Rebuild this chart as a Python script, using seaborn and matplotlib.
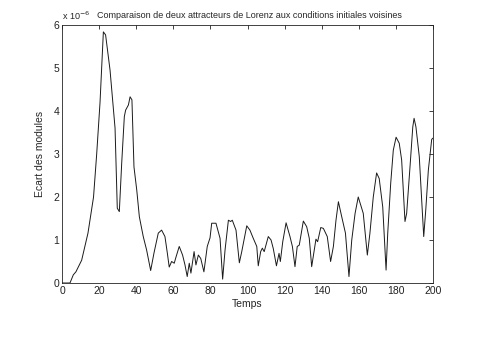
import matplotlib
matplotlib.use("Agg")
import matplotlib.pyplot as plt
import seaborn as sns
import pandas as pd

# Time values and differences (in units of 1e-6)
temps = [0, 4.3, 6.1, 7.5, 10.6, 14, 17, 18.7, 20.5, 22.3, 23.5, 25.9, 28.6, 29.8, 30.9,
         32.2, 33.6, 34.3, 35.8, 36.7, 37.7, 38.8, 40.3, 41.7, 43.8, 45.6, 47.8, 49.6,
         51.9, 53.7, 55.5, 56.8, 57.8, 59.1, 60.5, 61.5, 63.2, 65, 66.3, 67.5, 68.6,
         69.5, 71.2, 72.2, 73.5, 74.8, 76.5, 78.3, 79.8, 80.7, 83, 85.2, 86.6, 87.9,
         89.7, 90.9, 91.8, 93.8, 95.6, 96.9, 99.6, 101.3, 103.1, 105, 105.8, 107.1, 108,
         109, 111.2, 112.7, 113.9, 115.6, 117, 117.7, 119, 120.8, 122.9, 124.2, 125.6,
         126.8, 127.9, 130.1, 131.9, 133.3, 134.6, 136.9, 137.8, 139.5, 140.9, 143,
         144.8, 146.3, 147.7, 149, 150.8, 152.8, 154.7, 156.2, 158, 159.7, 162.4, 164.6,
         166, 167.8, 169.6, 171, 172.9, 174.7, 175.6, 177.2, 178.6, 180.1, 181.8, 183.1,
         184.9, 185.8, 187.6, 189.1, 189.8, 190.8, 192.6, 193.9, 195, 196.1, 197.5,
         199.3, 200]
ecart_e6 = [0, 0, 0.19, 0.26, 0.53, 1.16, 2.0, 3.0, 4.2, 5.84, 5.77, 4.95, 3.6, 1.74, 1.66,
            2.8, 3.87, 4.02, 4.14, 4.33, 4.26, 2.7, 2.16, 1.54, 1.08, 0.77, 0.29, 0.7,
            1.16, 1.23, 1.08, 0.69, 0.37, 0.5, 0.46, 0.61, 0.85, 0.65, 0.42, 0.15, 0.46,
            0.23, 0.73, 0.42, 0.65, 0.57, 0.26, 0.85, 1.05, 1.39, 1.39, 1.04, 0.09, 0.77,
            1.46, 1.43, 1.46, 1.23, 0.47, 0.73, 1.33, 1.23, 1.04, 0.85, 0.40, 0.73, 0.81,
            0.73, 1.08, 1.0, 0.8, 0.40, 0.69, 0.5, 0.96, 1.40, 1.08, 0.85, 0.38,
            0.85, 0.88, 1.44, 1.31, 1.04, 0.38, 1.02, 0.96, 1.29, 1.27, 1.08,
            0.5, 0.85, 1.46, 1.89, 1.54, 1.16, 0.15, 1.0, 1.62, 2.0, 1.62, 0.65,
            1.16, 2.0, 2.56, 2.43, 1.77, 0.30, 1.16, 2.32, 3.09, 3.39, 3.25, 2.86,
            1.43, 1.62, 2.7, 3.63, 3.83, 3.63, 2.94, 1.93, 1.08, 1.70, 2.63,
            3.34, 3.37]
x_ticks = [0, 20, 40, 60, 80, 100, 120, 140, 160, 180, 200]
y_ticks = [0, 1, 2, 3, 4, 5, 6]

sns.set_theme(style="white")
plt.rcParams['font.family'] = ['Liberation Sans', 'DejaVu Sans']

df = pd.DataFrame({"Temps": temps, "Ecart": ecart_e6})

fig = plt.figure(figsize=(4.8, 3.58), dpi=100)
ax = fig.add_axes([62/480, 1-283/358, (433-62)/480, (283-25)/358])
sns.lineplot(data=df, x="Temps", y="Ecart", ax=ax, color="#1a1a1a", linewidth=0.7,
             sort=False, estimator=None)
ax.set_xlim(0, 200)
ax.set_ylim(0, 6)
ax.set_xticks(x_ticks)
ax.set_yticks(y_ticks)
ax.set_xticklabels([str(v) for v in x_ticks])
ax.set_yticklabels([str(v) for v in y_ticks])
ax.tick_params(direction="in", length=3, width=0.6, top=True, right=True,
               labelsize=7.5, pad=2, colors="#222222")
for s in ax.spines.values():
    s.set_linewidth(0.6)
    s.set_color("#222222")
ax.set_xlabel("Temps", fontsize=7.5, labelpad=2)
ax.set_ylabel("Ecart des modules", fontsize=7.5, labelpad=6)
ax.set_title("Comparaison de deux attracteurs de Lorenz aux conditions initiales voisines",
             fontsize=6.5, pad=5, x=0.504)
ax.text(0.0, 1.012, "x 10$^{-6}$", transform=ax.transAxes, fontsize=6.5, ha="left", va="bottom")
fig.savefig("out.png", dpi=100, facecolor="white")
